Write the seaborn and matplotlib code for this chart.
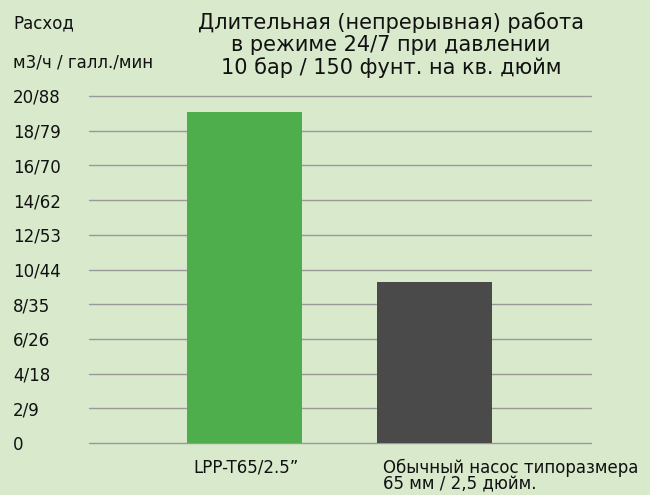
import matplotlib
matplotlib.use("Agg")
import matplotlib.pyplot as plt
import matplotlib.transforms as mtransforms
import seaborn as sns
import pandas as pd

categories = ["LPP-T65/2.5\u201d", "Обычный насос типоразмера\n65 мм / 2,5 дюйм."]
flow_values = [19.1, 9.3]
bar_colors = ["#4eae4c", "#4a4a4a"]
y_ticks = [0, 2, 4, 6, 8, 10, 12, 14, 16, 18, 20]
y_tick_labels = ["0", "2/9", "4/18", "6/26", "8/35", "10/44", "12/53", "14/62", "16/70", "18/79", "20/88"]
title_lines = ["Длительная (непрерывная) работа", "в режиме 24/7 при давлении", "10 бар / 150 фунт. на кв. дюйм"]

sns.set_theme(style="white")
plt.rcParams["font.family"] = ["DejaVu Sans"]

bg = "#d8e9cc"
txt = "#111111"
fig = plt.figure(figsize=(6.5, 4.95), dpi=100, facecolor=bg)
ax = fig.add_axes([89/650, 1 - 443/495, 502/650, (443 - 96)/495])
ax.set_facecolor(bg)

df = pd.DataFrame({"cat": categories, "val": flow_values})
sns.barplot(data=df, x="cat", y="val", hue="cat", palette=bar_colors,
            width=0.605, legend=False, ax=ax, saturation=1, zorder=3,
            linewidth=0, edgecolor="none")

ax.set_ylim(0, 20)
ax.set_xlim(-0.818, 1.824)
ax.set_yticks(y_ticks)
ax.set_yticklabels(y_tick_labels, fontsize=12, color=txt, ha="left")
ax.tick_params(axis="y", length=0, pad=54.7)
ax.tick_params(axis="x", length=0, pad=11)
ax.yaxis.grid(True, color="#999999", linewidth=1.0)
for gl in ax.get_ygridlines():
    gl.set_clip_on(False)
ax.set_axisbelow(True)
for s in ax.spines.values():
    s.set_visible(False)
ax.set_xlabel("")
ax.set_ylabel("")

ax.set_xticks([0, 1])
ax.set_xticklabels(categories, fontsize=12, color=txt, ha="left", va="top",
                   linespacing=0.95)
offset = mtransforms.ScaledTranslation(-51.5/100, 0, fig.dpi_scale_trans)
for lbl in ax.get_xticklabels():
    lbl.set_transform(lbl.get_transform() + offset)

fig.text(13/650, 1 - 23/495, "Расход", fontsize=12, color=txt, ha="left", va="center")
fig.text(13/650, 1 - 63/495, "м3/ч / галл./мин", fontsize=12, color=txt, ha="left", va="center")
fig.text(391/650, 1 - 45/495, "\n".join(title_lines), fontsize=15, color=txt,
         ha="center", va="center", linespacing=1.13)

fig.savefig("out.png", dpi=100, facecolor=bg)
